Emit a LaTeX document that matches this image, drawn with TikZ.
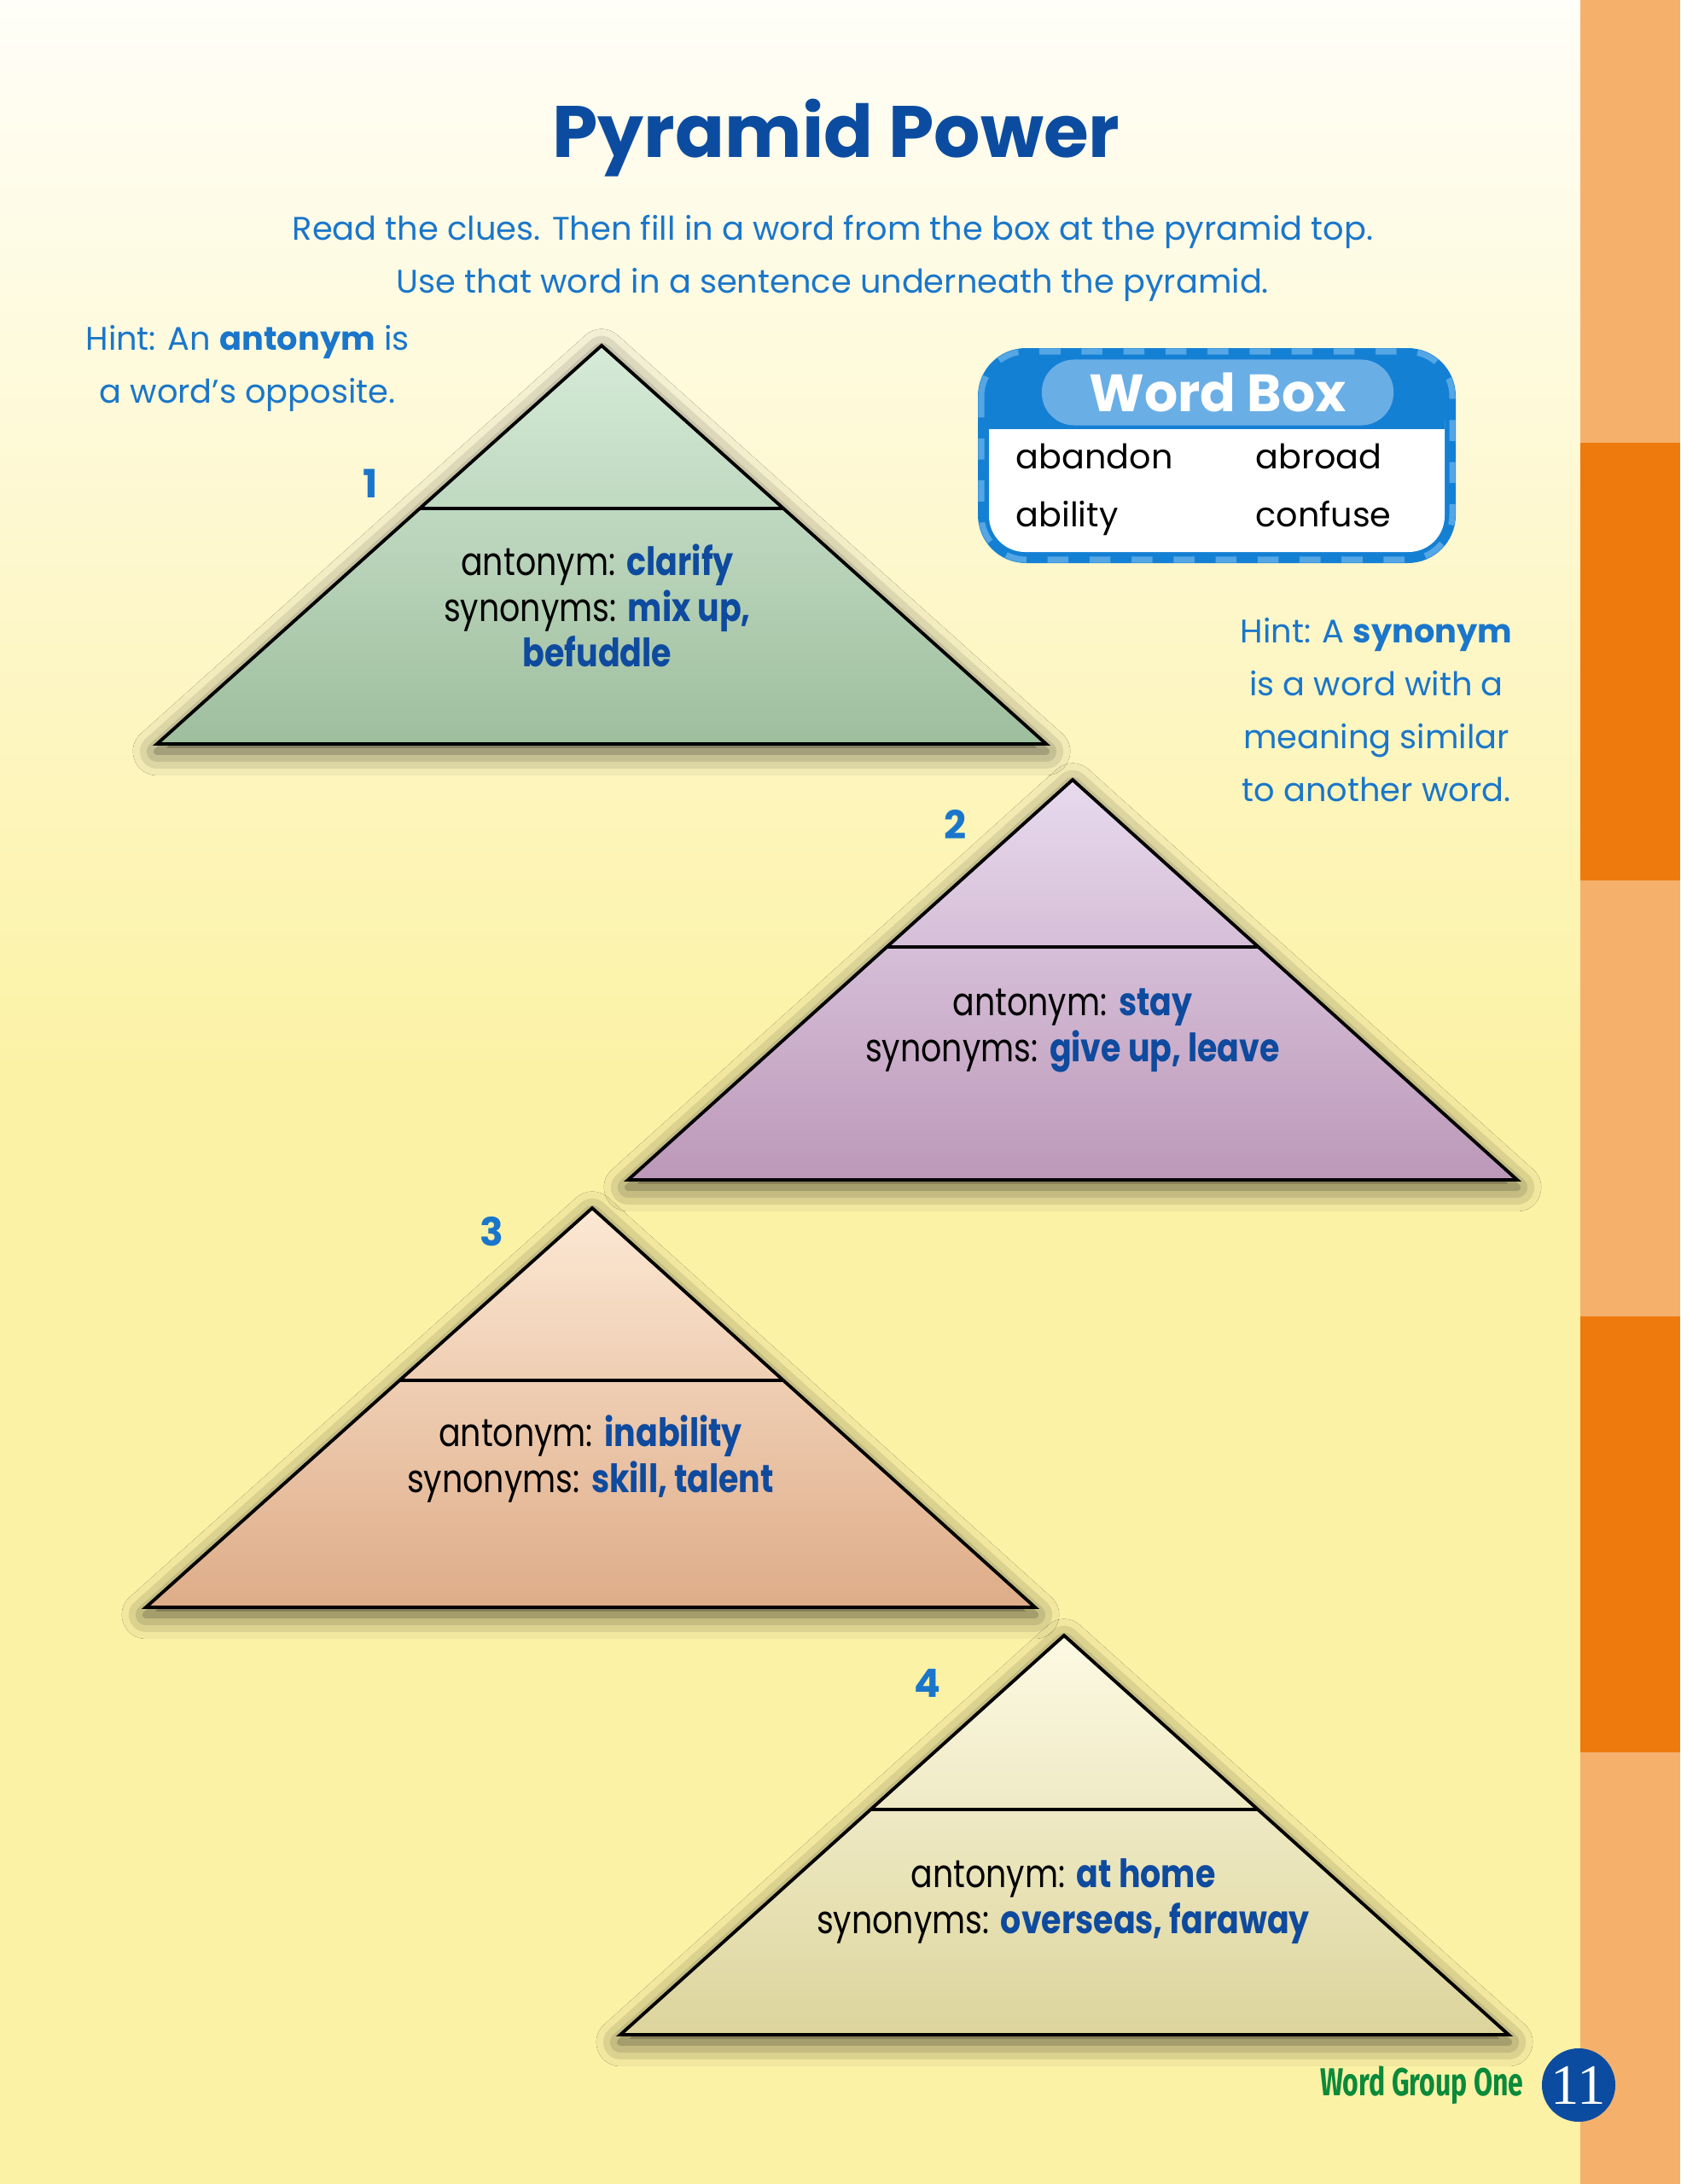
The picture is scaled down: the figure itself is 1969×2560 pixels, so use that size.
\documentclass[tikz,border=0pt]{standalone}
\usepackage{fontspec}
\setmainfont{Poppins}
\newfontfamily\cluefont[FakeStretch=0.83]{Poppins}
\newfontfamily\footfont[FakeStretch=0.7]{Fira Sans}
\newfontfamily\pagefont{Liberation Serif}
\usetikzlibrary{positioning,calc,shadows.blur}

\definecolor{titleblue}{RGB}{12,76,160}
\definecolor{hintblue}{RGB}{26,118,202}
\definecolor{ansblue}{RGB}{14,74,158}
\definecolor{bgtop}{RGB}{255,254,248}
\definecolor{bgyellow}{RGB}{252,242,166}
\definecolor{striplight}{RGB}{245,176,108}
\definecolor{stripdark}{RGB}{238,122,14}
\definecolor{wbdark}{RGB}{20,128,212}
\definecolor{wblight}{RGB}{84,166,228}
\definecolor{wbpill}{RGB}{106,174,230}
\definecolor{greentop}{RGB}{214,235,216}
\definecolor{greenbot}{RGB}{158,190,158}
\definecolor{plumtop}{RGB}{232,218,238}
\definecolor{plumbot}{RGB}{188,152,184}
\definecolor{peachtop}{RGB}{252,232,212}
\definecolor{peachbot}{RGB}{222,172,136}
\definecolor{creamtop}{RGB}{253,250,228}
\definecolor{creambot}{RGB}{220,212,156}
\definecolor{footgreen}{RGB}{10,138,58}

\newcommand{\ans}[1]{\textcolor{ansblue}{\bfseries #1}}

\begin{document}
\begin{tikzpicture}[x=0.01cm, y=-0.01cm,
    hint/.style={text=hintblue, font=\fontsize{10.9}{13}\selectfont, inner sep=0pt, anchor=base},
    num/.style={text=hintblue, font=\bfseries\fontsize{13}{13}\selectfont, inner sep=0pt, anchor=base},
    clue/.style={align=center, inner sep=0pt, font=\cluefont\fontsize{13}{15.3}\selectfont},
    pyr/.style={draw=black, line width=1.1pt, blur shadow={shadow xshift=0pt, shadow yshift=-2.5pt, shadow blur radius=8pt, shadow opacity=70}},
    divide/.style={draw=black, line width=1.1pt},
    entry/.style={font=\fontsize{11.3}{11.3}\selectfont, inner sep=0pt, anchor=base west}
]
\useasboundingbox (0,0) rectangle (1969,2560);

% page background and side strip
\fill[bgyellow] (0,0) rectangle (1852,2560);
\shade[top color=bgtop, bottom color=bgyellow] (0,0) rectangle (1852,1250);
\fill[striplight] (1852,0) rectangle (1969,2560);
\fill[stripdark] (1852,519) rectangle (1969,1032);
\fill[stripdark] (1852,1543) rectangle (1969,2054);

% heading
\node[text=titleblue, font=\bfseries\fontsize{24.3}{24.3}\selectfont, inner sep=0pt, anchor=base] (title) at (980,184) {Pyramid Power};
\node[hint] (read) at (976,281) {Read the clues. Then fill in a word from the box at the pyramid top.};
\node[hint] (use) at (976,343) {Use that word in a sentence underneath the pyramid.};

% hints
\node[hint] (antA) at (290,410) {Hint: An \textbf{antonym} is};
\node[hint] (antB) at (290,472) {a word’s opposite.};
\node[hint] (synA) at (1613,753) {Hint: A \textbf{synonym}};
\node[hint] (synB) at (1613,815) {is a word with a};
\node[hint] (synC) at (1613,877) {meaning similar};
\node[hint] (synD) at (1613,939) {to another word.};

% word box
\fill[wbdark, rounded corners=16pt] (1146,408) rectangle (1706,660);
\fill[white, rounded corners=12pt] (1159,450) rectangle (1693,647);
\fill[wbdark] (1159,440) rectangle (1693,503);
\draw[wblight, line width=2pt, dash pattern=on 7pt off 7pt, rounded corners=15pt] (1150,412) rectangle (1702,656);
\node[fill=wbpill, rounded corners=0.38cm, minimum width=4.12cm, minimum height=0.77cm, inner sep=0pt,
      text=white, font=\bfseries\fontsize{17.5}{17.5}\selectfont] (boxtitle) at (1427,460) {Word Box};
\node[entry] (abandon) at (1190,549) {abandon};
\node[entry] (abroad) at (1471,549) {abroad};
\node[entry] (ability) at (1190,617) {ability};
\node[entry] (confuse) at (1471,617) {confuse};

% pyramid 1
\coordinate (top1) at (705,405);
\coordinate (left1) at (184,872);
\coordinate (right1) at (1226,872);
\path[pyr, top color=greentop, middle color=greentop!80!greenbot, bottom color=greenbot] (top1) -- (left1) -- (right1) -- cycle;
\draw[divide] ($(top1)!0.409!(left1)$) -- ($(top1)!0.409!(right1)$);
\node[num] (n1) at (434,583) {1};
\node[clue] (clue1) at (700,710) {antonym: \ans{clarify}\\synonyms: \ans{mix up,}\\\ans{befuddle}};

% pyramid 2
\coordinate (top2) at (1257,914);
\coordinate (left2) at (736,1383);
\coordinate (right2) at (1778,1383);
\path[pyr, top color=plumtop, middle color=plumtop!80!plumbot, bottom color=plumbot] (top2) -- (left2) -- (right2) -- cycle;
\draw[divide] ($(top2)!0.418!(left2)$) -- ($(top2)!0.418!(right2)$);
\node[num] (n2) at (1120,983) {2};
\node[clue] (clue2) at (1257,1208) {antonym: \ans{stay}\\synonyms: \ans{give up, leave}};

% pyramid 3
\coordinate (top3) at (694,1416);
\coordinate (left3) at (171,1884);
\coordinate (right3) at (1213,1884);
\path[pyr, top color=peachtop, middle color=peachtop!80!peachbot, bottom color=peachbot] (top3) -- (left3) -- (right3) -- cycle;
\draw[divide] ($(top3)!0.432!(left3)$) -- ($(top3)!0.432!(right3)$);
\node[num] (n3) at (576,1460) {3};
\node[clue] (clue3) at (692,1710) {antonym: \ans{inability}\\synonyms: \ans{skill, talent}};

% pyramid 4
\coordinate (top4) at (1247,1917);
\coordinate (left4) at (727,2385);
\coordinate (right4) at (1768,2385);
\path[pyr, top color=creamtop, middle color=creamtop!80!creambot, bottom color=creambot] (top4) -- (left4) -- (right4) -- cycle;
\draw[divide] ($(top4)!0.436!(left4)$) -- ($(top4)!0.436!(right4)$);
\node[num] (n4) at (1087,1989) {4};
\node[clue] (clue4) at (1246,2229) {antonym: \ans{at home}\\synonyms: \ans{overseas, faraway}};

% footer
\node[circle, fill=titleblue, minimum size=0.86cm, inner sep=0pt, text=white, font=\pagefont\fontsize{19}{19}\selectfont] (page) at (1850,2444) {11};
\node[left=0.2cm of page, text=footgreen, font=\footfont\bfseries\fontsize{13}{13}\selectfont, inner sep=0pt] (group) {Word Group One};
\end{tikzpicture}
\end{document}
